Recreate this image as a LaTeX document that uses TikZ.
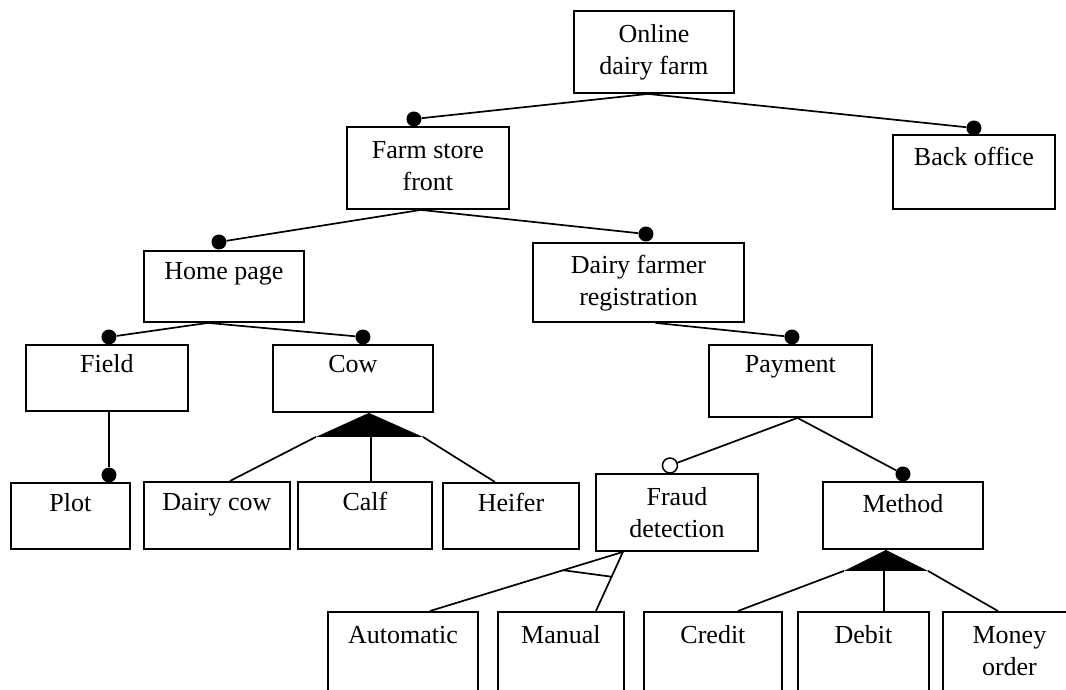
\documentclass[tikz,border=0pt]{standalone}
\usepackage{fontspec}
\setmainfont{Liberation Serif}
\usetikzlibrary{calc}
\begin{document}
\begin{tikzpicture}[x=1pt,y=-1pt,
  feat/.style={draw, line width=1.9pt, inner sep=0pt, anchor=north west},
  lbl/.style={anchor=north, inner sep=0pt, align=center,
    font=\fontsize{26}{32}\selectfont, execute at begin node=\strut},
  conn/.style={line width=1.7pt},
  mdot/.style={circle, fill=black, inner sep=0pt, minimum size=15pt},
  odot/.style={circle, draw, line width=1.5pt, fill=white, inner sep=0pt, minimum size=15pt}]
\useasboundingbox (0,0) rectangle (1066,690);
\clip (0,0) rectangle (1066,690);
\fill[white] (0,0) rectangle (1066,690);

% feature boxes
\node[feat, minimum width=160pt, minimum height=82pt] (online)  at (573,10)  {};
\node[feat, minimum width=162pt, minimum height=82pt] (fsf)     at (346,126) {};
\node[feat, minimum width=162pt, minimum height=74pt] (back)    at (892,134) {};
\node[feat, minimum width=160pt, minimum height=71pt] (home)    at (143,250) {};
\node[feat, minimum width=211pt, minimum height=79pt] (reg)     at (532,242) {};
\node[feat, minimum width=162pt, minimum height=66pt] (field)   at (25,344)  {};
\node[feat, minimum width=160pt, minimum height=67pt] (cow)     at (272,344) {};
\node[feat, minimum width=163pt, minimum height=72pt] (payment) at (708,344) {};
\node[feat, minimum width=119pt, minimum height=66pt] (plot)    at (10,482)  {};
\node[feat, minimum width=146pt, minimum height=67pt] (dcow)    at (143,481) {};
\node[feat, minimum width=134pt, minimum height=67pt] (calf)    at (297,481) {};
\node[feat, minimum width=136pt, minimum height=66pt] (heifer)  at (442,482) {};
\node[feat, minimum width=162pt, minimum height=77pt] (fraud)   at (595,473) {};
\node[feat, minimum width=160pt, minimum height=67pt] (method)  at (822,481) {};
\node[feat, minimum width=150pt, minimum height=90pt] (auto)    at (327,611) {};
\node[feat, minimum width=126pt, minimum height=90pt] (manual)  at (497,611) {};
\node[feat, minimum width=138pt, minimum height=90pt] (credit)  at (643,611) {};
\node[feat, minimum width=131pt, minimum height=90pt] (debit)   at (797,611) {};
\node[feat, minimum width=133pt, minimum height=90pt] (money)   at (942,611) {};

% feature names
\node[lbl] (online-t)  at ([yshift=-14.6pt]online.north)  {Online\\dairy farm};
\node[lbl] (fsf-t)     at ([yshift=-15.6pt]fsf.north)     {Farm store\\front};
\node[lbl] (back-t)    at ([yshift=-8.6pt]back.north)     {Back office};
\node[lbl] (home-t)    at ([yshift=-6.6pt]home.north)     {Home page};
\node[lbl] (reg-t)     at ([yshift=-12.6pt]reg.north)     {Dairy farmer\\registration};
\node[lbl] (field-t)   at ([yshift=-6pt]field.north)      {Field};
\node[lbl] (cow-t)     at ([yshift=-6pt]cow.north)        {Cow};
\node[lbl] (payment-t) at ([yshift=-6pt]payment.north)    {Payment};
\node[lbl] (plot-t)    at ([yshift=-7pt]plot.north)       {Plot};
\node[lbl] (dcow-t)    at ([yshift=-7pt]dcow.north)       {Dairy cow};
\node[lbl] (calf-t)    at ([yshift=-7pt]calf.north)       {Calf};
\node[lbl] (heifer-t)  at ([yshift=-7pt]heifer.north)     {Heifer};
\node[lbl] (fraud-t)   at ([yshift=-14.6pt]fraud.north)   {Fraud\\detection};
\node[lbl] (method-t)  at ([yshift=-8.6pt]method.north)   {Method};
\node[lbl] (auto-t)    at ([yshift=-10pt]auto.north)      {Automatic};
\node[lbl] (manual-t)  at ([yshift=-10pt]manual.north)    {Manual};
\node[lbl] (credit-t)  at ([yshift=-10pt]credit.north)    {Credit};
\node[lbl] (debit-t)   at ([yshift=-10pt]debit.north)     {Debit};
\node[lbl] (money-t)   at ([yshift=-15.6pt]money.north)   {Money\\order};

% mandatory / optional markers
\node[mdot] (fsf-m)     at ([xshift=-14pt,yshift=7pt]fsf.north)       {};
\node[mdot] (back-m)    at ([yshift=6pt]back.north)                   {};
\node[mdot] (home-m)    at ([xshift=-5pt,yshift=8pt]home.north)       {};
\node[mdot] (reg-m)     at ([xshift=7.5pt,yshift=8pt]reg.north)       {};
\node[mdot] (field-m)   at ([xshift=2pt,yshift=7pt]field.north)       {};
\node[mdot] (cow-m)     at ([xshift=10pt,yshift=7pt]cow.north)        {};
\node[mdot] (plot-m)    at ([xshift=38.5pt,yshift=7pt]plot.north)     {};
\node[mdot] (payment-m) at ([xshift=1.5pt,yshift=7pt]payment.north)   {};
\node[mdot] (method-m)  at ([yshift=7pt]method.north)                 {};
\node[odot] (fraud-o)   at ([xshift=-7pt,yshift=7.5pt]fraud.north)    {};

% parent attachment points
\coordinate (online-s)  at ([xshift=-6pt]online.south);
\coordinate (fsf-s)     at ([xshift=-7pt]fsf.south);
\coordinate (home-s)    at ([xshift=-16pt]home.south);
\coordinate (reg-s)     at ([xshift=17pt]reg.south);
\coordinate (payment-s) at ([xshift=7pt]payment.south);

% solitary features
\draw[conn] (online-s) -- (fsf-m);
\draw[conn] (online-s) -- (back-m);
\draw[conn] (fsf-s) -- (home-m);
\draw[conn] (fsf-s) -- (reg-m);
\draw[conn] (home-s) -- (field-m);
\draw[conn] (home-s) -- (cow-m);
\draw[conn] (plot-m |- field.south) -- (plot-m);
\draw[conn] (reg-s) -- (payment-m);
\draw[conn] (payment-s) -- (fraud-o);
\draw[conn] (payment-s) -- (method-m);

% or-group under Cow
\coordinate (cow-a) at ([xshift=16pt]cow.south);
\coordinate (cow-l) at ([xshift=-53pt,yshift=-24pt]cow-a);
\coordinate (cow-r) at ([xshift=54pt,yshift=-24pt]cow-a);
\coordinate (cow-c) at ([xshift=2pt,yshift=-24pt]cow-a);
\fill (cow-a) -- (cow-l) -- (cow-r) -- cycle;
\draw[conn] (cow-l) -- ([xshift=13pt]dcow.north);
\draw[conn] (cow-c) -- (cow-c |- calf.north);
\draw[conn] (cow-r) -- ([xshift=-16pt]heifer.north);

% or-group under Method
\coordinate (method-a) at ([xshift=-17pt]method.south);
\coordinate (method-l) at ([xshift=-42pt,yshift=-21pt]method-a);
\coordinate (method-r) at ([xshift=42pt,yshift=-21pt]method-a);
\coordinate (method-c) at ([xshift=-2pt,yshift=-21pt]method-a);
\fill (method-a) -- (method-l) -- (method-r) -- cycle;
\draw[conn] (method-l) -- ([xshift=25pt]credit.north);
\draw[conn] (method-c) -- (method-c |- debit.north);
\draw[conn] (method-r) -- ([xshift=-11.5pt]money.north);

% alternative group under Fraud detection
\coordinate (fraud-a) at ([xshift=-54pt]fraud.south);
\coordinate (auto-p) at ([xshift=27pt]auto.north);
\coordinate (manual-p) at ([xshift=35pt]manual.north);
\draw[conn] (fraud-a) -- (auto-p);
\draw[conn] (fraud-a) -- (manual-p);
\draw[conn] ($(fraud-a)!0.31!(auto-p)$) -- ($(fraud-a)!0.42!(manual-p)$);
\end{tikzpicture}
\end{document}
